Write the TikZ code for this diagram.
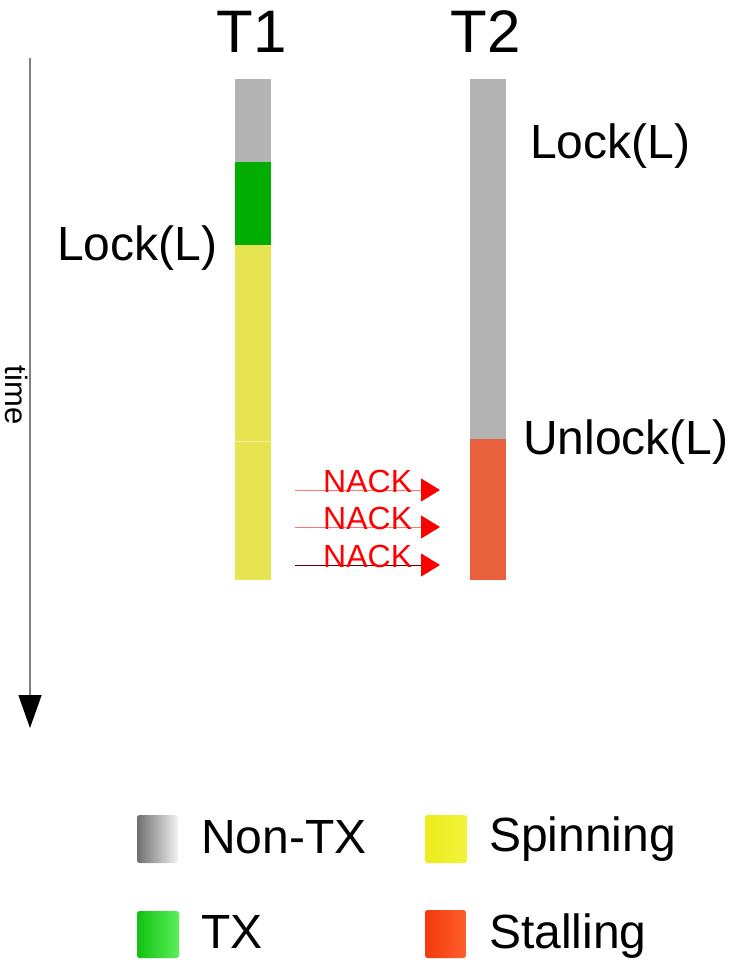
\documentclass[tikz,border=0pt]{standalone}
\usepackage{fontspec}
\setmainfont{Liberation Sans}
\usetikzlibrary{arrows.meta}

\definecolor{nontx}{HTML}{B3B3B3}
\definecolor{txgreen}{HTML}{00AD00}
\definecolor{spin}{HTML}{E6E450}
\definecolor{stall}{HTML}{E8603C}
\definecolor{axisgray}{HTML}{808080}
% legend swatch shades
\definecolor{grayL}{HTML}{6E6E6E}\definecolor{grayM}{HTML}{B8B8B8}\definecolor{grayR}{HTML}{F2F2F2}
\definecolor{greenL}{HTML}{12C012}\definecolor{greenM}{HTML}{2ADA2A}\definecolor{greenR}{HTML}{5AF05A}
\definecolor{yelL}{HTML}{ECEC1E}\definecolor{yelM}{HTML}{F6F648}\definecolor{yelR}{HTML}{F2F23C}
\definecolor{redL}{HTML}{F23A0E}\definecolor{redM}{HTML}{E8380E}\definecolor{redR}{HTML}{FF5E2C}

\tikzset{
  lbl/.style={inner sep=0pt, anchor=base west, font=\fontsize{48}{52}\selectfont},
  thread/.style={inner sep=0pt, anchor=base, font=\fontsize{60}{64}\selectfont},
  nack/.style={inner sep=0pt, anchor=base west, text=red, font=\fontsize{32}{35}\selectfont},
  nackline/.style={line width=1pt, -{Triangle[length=19pt,width=23pt,fill=red,color=red]}},
  legtext/.style={inner sep=0pt, anchor=base west, font=\fontsize{48}{52}\selectfont},
  swatch/.style={rounded corners=2.5pt},
}

\begin{document}
\begin{tikzpicture}[x=1pt,y=-1pt]
  \useasboundingbox (0,0) rectangle (729,963);

  % thread names
  \node[thread] (t1) at (252,53) {T1};
  \node[thread] (t2) at (486,53) {T2};

  % T1 timeline
  \fill[nontx]   (235,79)  rectangle (271,162);
  \fill[txgreen] (235,162) rectangle (271,245);
  \fill[spin]    (235,245) rectangle (271,580);
  \draw[spin!55!white, line width=0.8pt] (235,441) -- (271,441);

  % T2 timeline
  \fill[nontx] (470,79)  rectangle (506,439);
  \fill[stall] (470,439) rectangle (506,580);

  % lock operations
  \node[lbl] (lock1)   at (57,260)  {Lock(L)};
  \node[lbl] (lock2)   at (530,158) {Lock(L)};
  \node[lbl] (unlock2) at (523,454) {Unlock(L)};

  % time axis
  \coordinate (tstart) at (30,58);
  \coordinate (tend)   at (30,728);
  \draw[axisgray, line width=1.6pt, -{Triangle[length=33pt,width=23pt,color=black]}] (tstart) -- (tend);
  \node[rotate=-90, inner sep=0pt, font=\fontsize{31}{34}\selectfont] (time) at (17,395) {time};

  % NACK messages
  \coordinate (n1a) at (295,490); \coordinate (n1b) at (440,490);
  \coordinate (n2a) at (295,527); \coordinate (n2b) at (440,527);
  \coordinate (n3a) at (295,565); \coordinate (n3b) at (440,565);
  \draw[nackline, red!55] (n1a) -- (n1b);
  \draw[nackline, red!55] (n2a) -- (n2b);
  \draw[nackline, red!35!black] (n3a) -- (n3b);
  \node[nack] (nack1) at (323,492) {NACK};
  \node[nack] (nack2) at (323,529) {NACK};
  \node[nack] (nack3) at (323,567) {NACK};

  % legend
  \shade[swatch, left color=grayL, middle color=grayM, right color=grayR]
    (137,815) rectangle (178,863);
  \shade[swatch, left color=greenL, middle color=greenM, right color=greenR]
    (137,911) rectangle (179,958);
  \shade[swatch, left color=yelL, middle color=yelM, right color=yelR]
    (425,815) rectangle (467,863);
  \shade[swatch, left color=redL, middle color=redM, right color=redR]
    (425,910) rectangle (466,958);
  \node[legtext] (lnontx) at (201,853) {Non-TX};
  \node[legtext] (ltx)    at (201,948) {TX};
  \node[legtext] (lspin)  at (489,851) {Spinning};
  \node[legtext] (lstall) at (489,948) {Stalling};
\end{tikzpicture}
\end{document}
